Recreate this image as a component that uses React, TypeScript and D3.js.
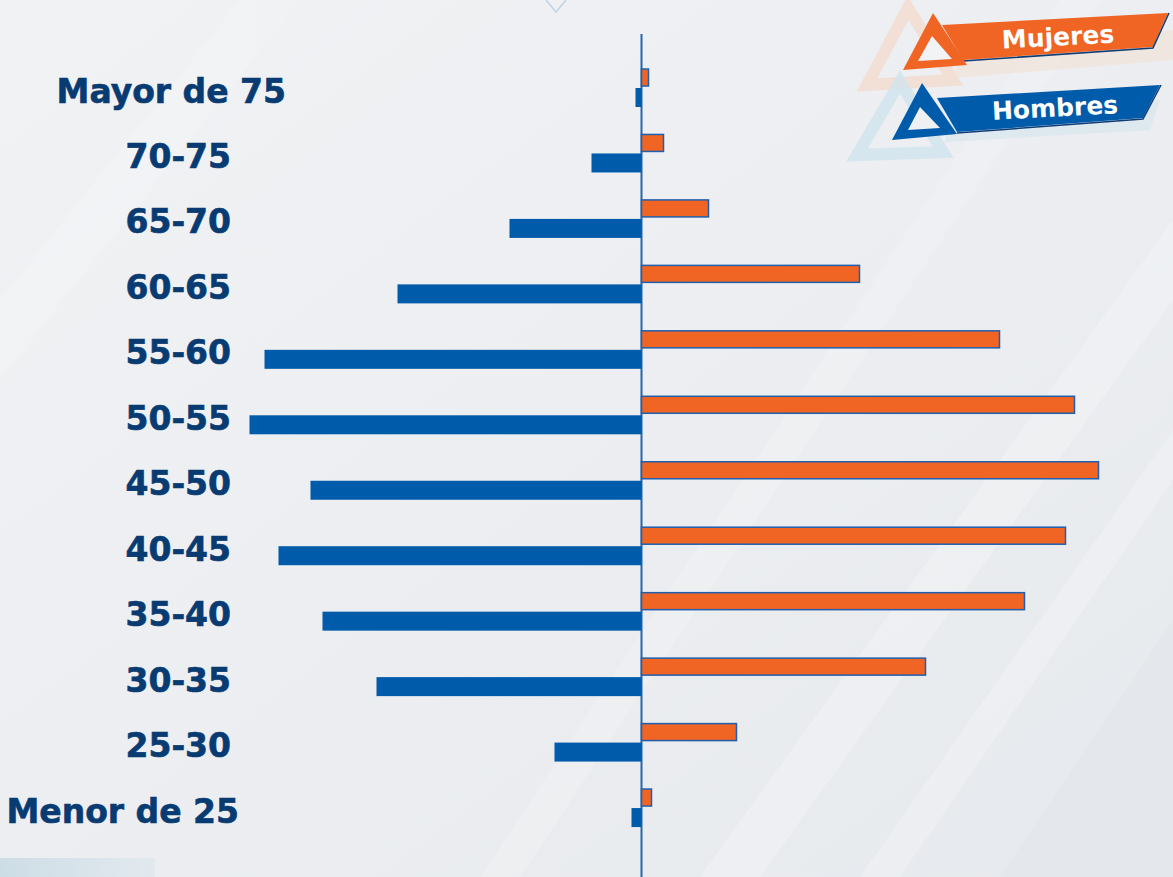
import React from "react";
import * as d3 from "d3";

const categories = ["Mayor de 75", "70-75", "65-70", "60-65", "55-60", "50-55", "45-50", "40-45", "35-40", "30-35", "25-30", "Menor de 25"];
const mujeres = [0.7, 2.2, 6.7, 21.8, 35.8, 43.3, 45.7, 42.4, 38.3, 28.4, 9.5, 1.0];
const hombres = [0.6, 5.0, 13.2, 24.4, 37.7, 39.2, 33.1, 36.3, 31.9, 26.5, 8.7, 1.0];
const legendLabels = ["Mujeres", "Hombres"];

const W = 1173;
const H = 877;
const CX = 641.5;
const ORANGE = "#f06424";
const BLUE = "#005bab";
const NAVY = "#083b72";

export default function App() {
  const x = d3.scaleLinear().domain([0, 10]).range([0, 100]);
  const y = d3.scaleBand<string>().domain(categories).range([69, 854.5]).padding(0);

  const labelEnd: Record<string, number> = { "Mayor de 75": 286, "Menor de 25": 239 };

  const pts = (arr: number[][]) => arr.map((p) => p.join(",")).join(" ");

  return (
    <svg width={W} height={H} style={{ position: "absolute", left: 0, top: 0, display: "block" }}>
      <defs>
        <linearGradient id="bg" x1="0" y1="0" x2="1" y2="1">
          <stop offset="0" stopColor="#f1f2f4" />
          <stop offset="0.5" stopColor="#eceef1" />
          <stop offset="1" stopColor="#e6e9ed" />
        </linearGradient>
        <linearGradient id="bl" x1="0" y1="0" x2="1" y2="0">
          <stop offset="0" stopColor="#cddde6" />
          <stop offset="1" stopColor="#e2e9ee" />
        </linearGradient>
      </defs>
      <rect width={W} height={H} fill="url(#bg)" />
      {/* subtle diagonal streaks */}
      <g opacity={0.35}>
        <polygon points={pts([[700, 877], [760, 877], [1173, 300], [1173, 220]])} fill="#f8f9fa" />
        <polygon points={pts([[860, 877], [900, 877], [1173, 480], [1173, 430]])} fill="#f7f8f9" />
        <polygon points={pts([[480, 877], [520, 877], [1100, 0], [1060, 0]])} fill="#f5f6f7" />
        <polygon points={pts([[0, 300], [0, 380], [300, 0], [240, 0]])} fill="#f5f6f8" />
        <polygon points={pts([[1000, 877], [1173, 877], [1173, 620]])} fill="#e1e4e8" />
      </g>
      <rect x={0} y={858} width={155} height={19} fill="url(#bl)" />
      <polyline points={pts([[546, 0], [556, 12], [566, 0]])} fill="none" stroke="#bfd3e6" strokeWidth={1.5} />

      {/* axis */}
      <line x1={CX} x2={CX} y1={34} y2={H} stroke="#2466b0" strokeWidth={2} />

      {categories.map((c, i) => {
        const y0 = y(c)!;
        return (
          <g key={c}>
            <rect x={CX} y={y0} width={x(mujeres[i])} height={17} fill={ORANGE} stroke="#1f5fae" strokeWidth={1.5} />
            <rect x={CX - x(hombres[i])} y={y0 + 19} width={x(hombres[i])} height={19} fill={BLUE} />
            <text
              x={labelEnd[c] ?? 231}
              y={y0 + 22}
              textAnchor="end"
              dominantBaseline="central"
              fontFamily="DejaVu Sans, Verdana, sans-serif"
              fontWeight="bold"
              fontSize={33}
              fill={NAVY}
              stroke={NAVY}
              strokeWidth={0.6}
            >
              {c}
            </text>
          </g>
        );
      })}

      {/* legend */}
      <g>
        <polygon points={pts([[908, 8], [867, 85], [953, 80]])} fill="none" stroke="#f3d8c9" strokeWidth={12} opacity={0.7} />
        <polygon points={pts([[960, 45], [1173, 30], [1173, 60], [955, 78]])} fill="#f2e1d6" opacity={0.6} />
        <polygon points={pts([[900, 82], [857, 155], [943, 152]])} fill="none" stroke="#cfe3ee" strokeWidth={12} opacity={0.8} />
        <polygon points={pts([[950, 115], [1160, 100], [1150, 130], [945, 142]])} fill="#d8e6ee" opacity={0.7} />

        <polygon points={pts([[942, 25], [1168, 13], [1153, 47], [963, 60]])} fill={ORANGE} />
        <polyline points={pts([[963, 61], [1153, 48], [1169, 13]])} fill="none" stroke="#0e3d75" strokeWidth={1.5} />
        <polygon points={pts([[933, 13], [903, 70], [967, 65]])} fill={ORANGE} />
        <polygon points={pts([[932, 36], [918, 61], [952, 59]])} fill="#f2f3f5" />
        <text x={1058} y={37} textAnchor="middle" dominantBaseline="central" fontFamily="DejaVu Sans, Verdana, sans-serif" fontWeight="bold" fontSize={25} fill="#fff" transform="rotate(-3 1058 37)">
          {legendLabels[0]}
        </text>

        <polygon points={pts([[937, 98], [1160, 85], [1143, 118], [957, 132]])} fill={BLUE} />
        <polyline points={pts([[957, 133], [1143, 119], [1161, 85]])} fill="none" stroke="#0e3d75" strokeWidth={1.5} />
        <polygon points={pts([[922, 83], [892, 140], [957, 134]])} fill={BLUE} />
        <polygon points={pts([[920, 107], [908, 130], [940, 128]])} fill="#eef0f3" />
        <text x={1055} y={108} textAnchor="middle" dominantBaseline="central" fontFamily="DejaVu Sans, Verdana, sans-serif" fontWeight="bold" fontSize={25} fill="#fff" transform="rotate(-3 1055 108)">
          {legendLabels[1]}
        </text>
      </g>
    </svg>
  );
}
